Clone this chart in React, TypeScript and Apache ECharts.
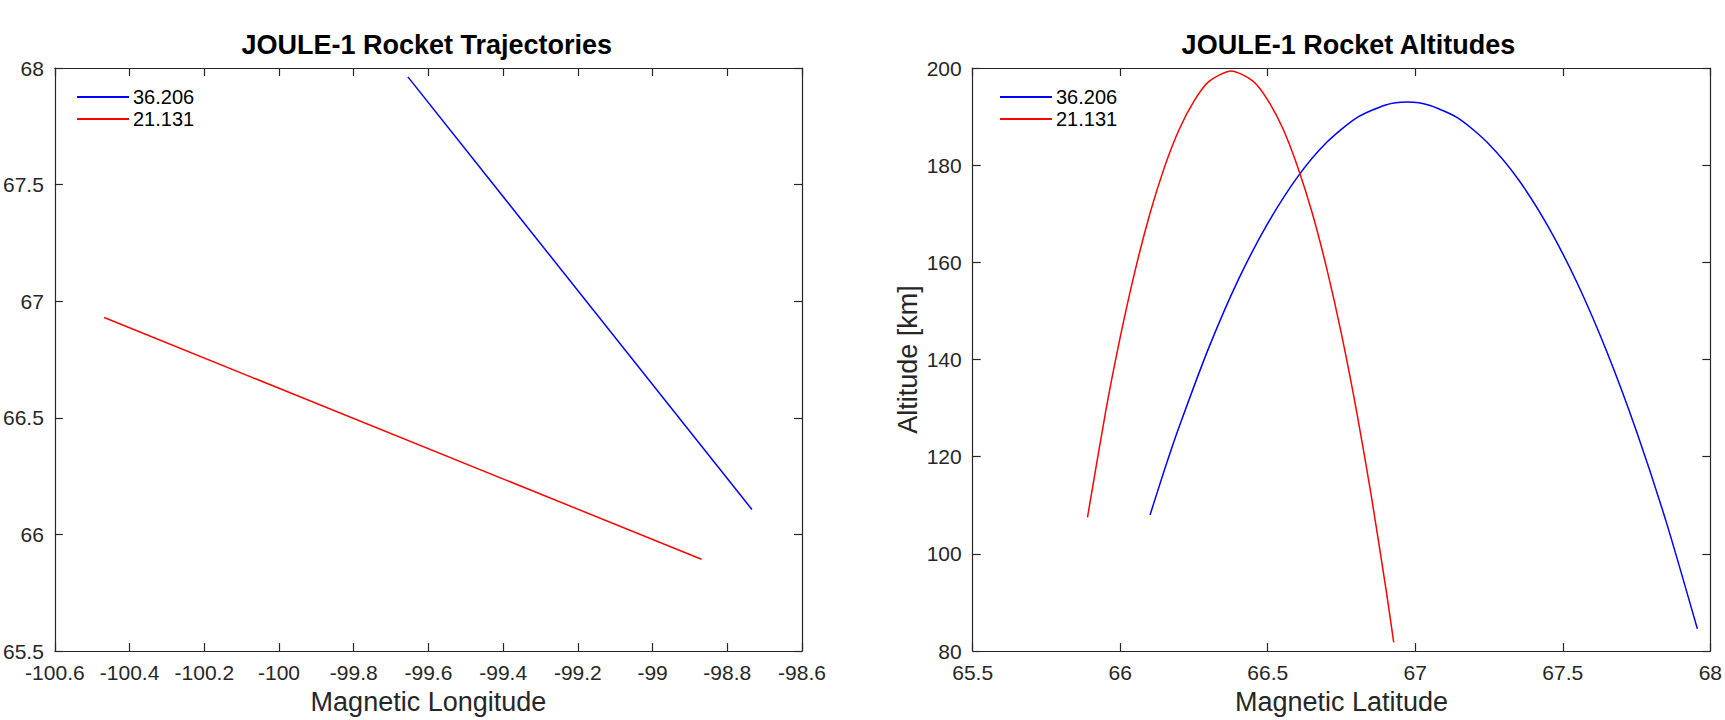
import React, { useEffect, useRef } from "react";
import * as echarts from "echarts";

// ---- Data ----
const seriesNames = ["36.206", "21.131"];

// Left panel: trajectories (magnetic longitude vs magnetic latitude)
const trajLon36206 = [-99.655, -98.734];
const trajLat36206 = [67.962, 66.107];
const trajLon21131 = [-100.468, -98.869];
const trajLat21131 = [66.93, 65.894];

// Right panel: altitudes (magnetic latitude vs altitude km)
const altLat36206 = [66.101, 66.15, 66.2, 66.3, 66.4, 66.5, 66.6, 66.7, 66.8, 66.9, 66.972, 67.05, 67.15, 67.25, 67.35, 67.45, 67.55, 67.65, 67.75, 67.85, 67.956];
const altKm36206 = [108.0, 117.3, 126.2, 142.4, 156.4, 168.0, 177.5, 184.7, 189.7, 192.4, 193.0, 192.3, 189.5, 184.3, 177.0, 167.4, 155.6, 141.5, 125.2, 106.7, 84.6];
const altLat21131 = [65.889, 65.95, 66.0, 66.05, 66.1, 66.15, 66.2, 66.25, 66.3, 66.376, 66.45, 66.5, 66.55, 66.6, 66.65, 66.7, 66.75, 66.8, 66.85, 66.9, 66.927];
const altKm21131 = [107.5, 129.1, 144.6, 158.2, 169.9, 179.6, 187.4, 193.2, 197.2, 199.4, 197.3, 193.4, 187.7, 179.9, 170.3, 158.7, 145.2, 129.7, 112.3, 93.0, 81.8];

// Axis ranges / ticks
const lonAxis = { min: -100.6, max: -98.6, interval: 0.2 };
const latAxisLeft = { min: 65.5, max: 68, interval: 0.5 };
const latAxisRight = { min: 65.5, max: 68, interval: 0.5 };
const altAxis = { min: 80, max: 200, interval: 20 };

const titles = ["JOULE-1 Rocket Trajectories", "JOULE-1 Rocket Altitudes"];
const xNames = ["Magnetic Longitude", "Magnetic Latitude"];
const yNameRight = "Altitude [km]";

const zip = (a: number[], b: number[]) => a.map((v, i) => [v, b[i]]);

const FONT = "'Liberation Sans', Arial, Helvetica, sans-serif";
const AX = "#262626";

export default function App() {
  const ref = useRef<HTMLDivElement>(null);
  useEffect(() => {
    if (!ref.current) return;
    const chart = echarts.init(ref.current, undefined, { renderer: "svg" });

    const grids = [
      { left: 51.7, top: 68, width: 750.3, height: 593 },
      { left: 972.7, top: 68, width: 751.3, height: 593 },
    ];

    const baseAxis = (range: any, extra: any) => ({
      type: "value",
      min: range.min,
      max: range.max,
      interval: range.interval,
      splitLine: { show: false },
      axisLine: { show: true, onZero: false, lineStyle: { color: AX, width: 1.2 } },
      axisTick: { show: true, inside: true, length: 8, lineStyle: { color: AX, width: 1.2 } },
      ...extra,
    });

    const labelStyle = (margin: number) => ({
      show: true,
      color: AX,
      fontSize: 21,
      fontFamily: FONT,
      margin,
      showMinLabel: true,
      showMaxLabel: true,
    });

    const nameStyle = { color: AX, fontSize: 27, fontFamily: FONT };

    const xAxis = [
      baseAxis(lonAxis, {
        gridIndex: 0,
        position: "bottom",
        axisLabel: labelStyle(11),
        name: xNames[0],
        nameLocation: "middle",
        nameGap: 34,
        nameTextStyle: nameStyle,
      }),
      baseAxis(lonAxis, { gridIndex: 0, position: "top", axisLabel: { show: false } }),
      baseAxis(latAxisRight, {
        gridIndex: 1,
        position: "bottom",
        axisLabel: labelStyle(11),
        name: xNames[1],
        nameLocation: "middle",
        nameGap: 34,
        nameTextStyle: nameStyle,
      }),
      baseAxis(latAxisRight, { gridIndex: 1, position: "top", axisLabel: { show: false } }),
    ];

    const yAxis = [
      baseAxis(latAxisLeft, { gridIndex: 0, position: "left", axisLabel: labelStyle(11) }),
      baseAxis(latAxisLeft, { gridIndex: 0, position: "right", axisLabel: { show: false } }),
      baseAxis(altAxis, {
        gridIndex: 1,
        position: "left",
        axisLabel: labelStyle(11),
        name: yNameRight,
        nameLocation: "middle",
        nameGap: 51,
        nameRotate: 90,
        nameTextStyle: nameStyle,
      }),
      baseAxis(altAxis, { gridIndex: 1, position: "right", axisLabel: { show: false } }),
    ];

    const lineSeries = (name: string, color: string, data: number[][], xi: number, yi: number) => ({
      type: "line",
      name,
      data,
      xAxisIndex: xi,
      yAxisIndex: yi,
      showSymbol: false,
      symbol: "none",
      smooth: 0.25,
      lineStyle: { color, width: 1.5 },
      itemStyle: { color },
      z: 3,
    });

    const legendBase = {
      orient: "vertical",
      top: 87,
      padding: 0,
      itemWidth: 52,
      itemHeight: 2,
      itemGap: 2,
      icon: "rect",
      selectedMode: false,
      data: seriesNames,
      itemStyle: { borderWidth: 0 },
      lineStyle: { width: 0 },
      textStyle: { fontSize: 20, fontFamily: FONT, color: "#000", lineHeight: 20, padding: [0, 0, 0, -1] },
    };

    const titleStyle = (text: string) => ({
      text,
      fontSize: 27,
      fontWeight: "bold",
      fontFamily: FONT,
      fill: "#000",
      textAlign: "center",
      textVerticalAlign: "middle",
    });

    chart.setOption({
      animation: false,
      backgroundColor: "#ffffff",
      grid: grids,
      xAxis,
      yAxis,
      legend: [
        { ...legendBase, left: 77 },
        { ...legendBase, left: 1000 },
      ],
      graphic: [
        { type: "text", x: 426.8, y: 45, style: titleStyle(titles[0]) },
        { type: "text", x: 1348.4, y: 45, style: titleStyle(titles[1]) },
      ],
      series: [
        lineSeries(seriesNames[0], "#0000ff", zip(trajLon36206, trajLat36206), 0, 0),
        lineSeries(seriesNames[1], "#ff0000", zip(trajLon21131, trajLat21131), 0, 0),
        lineSeries(seriesNames[0], "#0000ff", zip(altLat36206, altKm36206), 2, 2),
        lineSeries(seriesNames[1], "#ff0000", zip(altLat21131, altKm21131), 2, 2),
      ],
    });
    return () => chart.dispose();
  }, []);

  return (
    <div
      ref={ref}
      style={{ position: "absolute", left: 0, top: 0, width: 1725, height: 720, background: "#fff" }}
    />
  );
}
